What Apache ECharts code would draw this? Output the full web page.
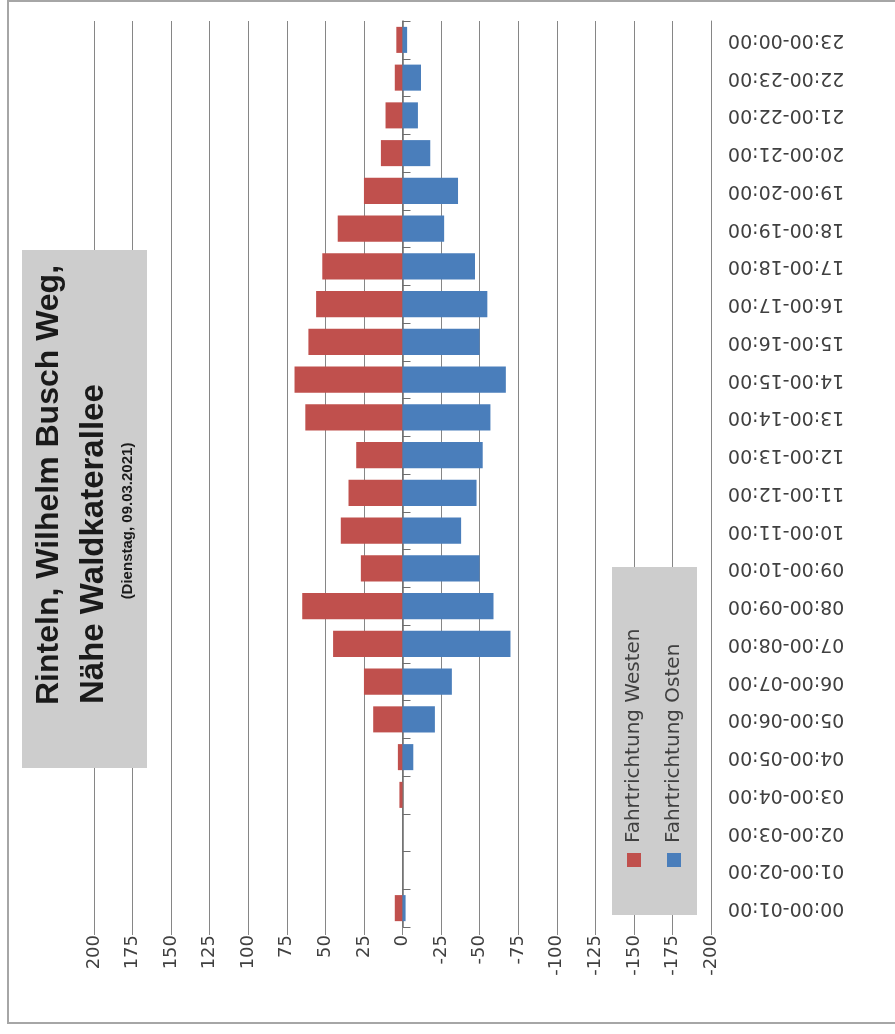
<!DOCTYPE html>
<html>
<head>
<meta charset="utf-8">
<script src="https://cdn.jsdelivr.net/npm/echarts@6/dist/echarts.min.js"></script>
<style>
  html, body { margin: 0; padding: 0; background: #ffffff; }
  #chart { width: 895px; height: 1034px; }
</style>
</head>
<body>
<div id="chart"></div>
<script>
// Hourly traffic counts, one bar pair per hour slot
const hours = [
  '00:00-01:00', '01:00-02:00', '02:00-03:00', '03:00-04:00', '04:00-05:00', '05:00-06:00',
  '06:00-07:00', '07:00-08:00', '08:00-09:00', '09:00-10:00', '10:00-11:00', '11:00-12:00',
  '12:00-13:00', '13:00-14:00', '14:00-15:00', '15:00-16:00', '16:00-17:00', '17:00-18:00',
  '18:00-19:00', '19:00-20:00', '20:00-21:00', '21:00-22:00', '22:00-23:00', '23:00-00:00'
];
// westbound counts (positive side)
const westbound = [5, 0, 0, 2, 3, 19, 25, 45, 65, 27, 40, 35, 30, 63, 70, 61, 56, 52, 42, 25, 14, 11, 5, 4];
// eastbound counts (drawn on the negative side)
const eastbound = [-2, 0, 0, 0, -7, -21, -32, -70, -59, -50, -38, -48, -52, -57, -67, -50, -55, -47, -27, -36, -18, -10, -12, -3];

const seriesNames = ['Fahrtrichtung Westen', 'Fahrtrichtung Osten'];
const seriesColors = ['#C0504D', '#4A7EBB'];
const titleLines = ['Rinteln, Wilhelm Busch Weg,', 'Nähe Waldkaterallee', '(Dienstag, 09.03.2021)'];

const chart = echarts.init(document.getElementById('chart'), null, { renderer: 'canvas' });

const labelFont = 'DejaVu Sans';
const titleFont = 'Liberation Sans, Arial, sans-serif';

const option = {
  backgroundColor: '#ffffff',
  animation: false,
  grid: { left: 94, right: 184, top: 21, bottom: 107, containLabel: false },
  xAxis: {
    type: 'value',
    min: -200,
    max: 200,
    interval: 25,
    inverse: true,
    position: 'bottom',
    axisLine: { onZero: false, lineStyle: { color: '#868686', width: 1 } },
    axisTick: { show: true, length: 8, lineStyle: { color: '#868686' } },
    axisLabel: { rotate: 90, margin: 8, fontFamily: labelFont, fontSize: 18, color: '#404040' },
    splitLine: { show: true, lineStyle: { color: '#868686', width: 1 } }
  },
  yAxis: [
    {
      type: 'category',
      data: hours,
      position: 'right',
      axisLine: { show: true, onZero: false, lineStyle: { color: '#868686', width: 1 } },
      axisTick: { show: false },
      axisLabel: { rotate: 180, margin: 17, fontFamily: labelFont, fontSize: 19, color: '#404040', interval: 0 },
      splitLine: { show: false }
    },
    {
      type: 'category',
      data: hours,
      position: 'right',
      axisLine: { show: true, onZero: true, lineStyle: { color: '#6e6e6e', width: 1.5 } },
      axisTick: { show: true, length: 8, interval: 0, lineStyle: { color: '#6e6e6e' } },
      axisLabel: { show: false },
      splitLine: { show: false }
    }
  ],
  series: [
    {
      name: seriesNames[0],
      type: 'bar',
      stack: 'traffic',
      yAxisIndex: 0,
      data: westbound,
      barCategoryGap: '31%',
      itemStyle: { color: seriesColors[0] }
    },
    {
      name: seriesNames[1],
      type: 'bar',
      stack: 'traffic',
      yAxisIndex: 0,
      data: eastbound,
      barCategoryGap: '31%',
      itemStyle: { color: seriesColors[1] }
    }
  ],
  graphic: [
    // outer frame
    {
      type: 'rect', z: 0, silent: true,
      shape: { x: 8, y: 1, width: 892, height: 1022 },
      style: { fill: 'none', stroke: '#a6a6a6', lineWidth: 2 }
    },
    // title box
    {
      type: 'rect', z: 10,
      shape: { x: 22, y: 250, width: 125, height: 518 },
      style: { fill: '#CDCDCD' }
    },
    {
      type: 'text', z: 11, x: 49, y: 705, rotation: Math.PI / 2,
      style: { text: titleLines[0], font: 'bold 32px ' + titleFont, fill: '#1a1a1a', textAlign: 'left', textVerticalAlign: 'middle' }
    },
    {
      type: 'text', z: 11, x: 94, y: 704, rotation: Math.PI / 2,
      style: { text: titleLines[1], font: 'bold 33px ' + titleFont, fill: '#1a1a1a', textAlign: 'left', textVerticalAlign: 'middle' }
    },
    {
      type: 'text', z: 11, x: 128, y: 521, rotation: Math.PI / 2,
      style: { text: titleLines[2], font: 'bold 15px ' + titleFont, fill: '#1a1a1a', textAlign: 'center', textVerticalAlign: 'middle' }
    },
    // legend box
    {
      type: 'rect', z: 10,
      shape: { x: 612, y: 567, width: 85, height: 348 },
      style: { fill: '#CDCDCD' }
    },
    {
      type: 'rect', z: 11,
      shape: { x: 627, y: 853, width: 14, height: 14 },
      style: { fill: seriesColors[0] }
    },
    {
      type: 'text', z: 11, x: 634, y: 843, rotation: Math.PI / 2,
      style: { text: seriesNames[0], font: '20px ' + labelFont, fill: '#404040', textAlign: 'left', textVerticalAlign: 'middle' }
    },
    {
      type: 'rect', z: 11,
      shape: { x: 667, y: 853, width: 14, height: 14 },
      style: { fill: seriesColors[1] }
    },
    {
      type: 'text', z: 11, x: 674, y: 843, rotation: Math.PI / 2,
      style: { text: seriesNames[1], font: '20px ' + labelFont, fill: '#404040', textAlign: 'left', textVerticalAlign: 'middle' }
    }
  ]
};

chart.setOption(option);
</script>
</body>
</html>
